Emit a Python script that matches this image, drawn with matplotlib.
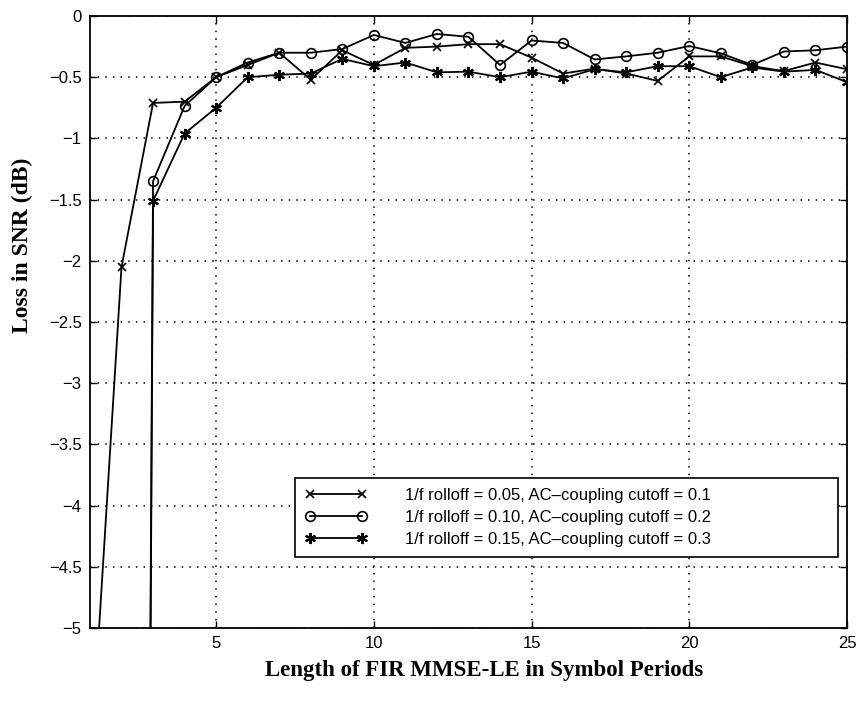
import numpy as np
import matplotlib
matplotlib.use("Agg")
import matplotlib.pyplot as plt

# filter length in symbol periods
taps = np.arange(1, 26)

# loss in SNR (dB) for each coupling setting
loss_a = [-6.2, -2.05, -0.71, -0.70, -0.50, -0.40, -0.30, -0.52, -0.28, -0.40,
          -0.26, -0.25, -0.23, -0.23, -0.34, -0.47, -0.43, -0.47, -0.53, -0.33,
          -0.33, -0.41, -0.45, -0.38, -0.435]
loss_b = [-60.0, -45.0, -1.35, -0.735, -0.50, -0.38, -0.30, -0.30, -0.27, -0.155,
          -0.22, -0.147, -0.17, -0.40, -0.20, -0.22, -0.355, -0.33, -0.30, -0.245,
          -0.305, -0.40, -0.29, -0.28, -0.25]
loss_c = [-62.0, -47.0, -1.51, -0.96, -0.75, -0.50, -0.48, -0.47, -0.35, -0.41,
          -0.38, -0.46, -0.455, -0.50, -0.455, -0.51, -0.435, -0.46, -0.41, -0.41,
          -0.50, -0.42, -0.455, -0.44, -0.54]

labels = ["1/f rolloff = 0.05, AC\u2013coupling cutoff = 0.1",
          "1/f rolloff = 0.10, AC\u2013coupling cutoff = 0.2",
          "1/f rolloff = 0.15, AC\u2013coupling cutoff = 0.3"]

xticks = [5, 10, 15, 20, 25]
yticks = np.arange(-5, 0.01, 0.5)

plt.rcParams['font.family'] = ['Liberation Sans', 'DejaVu Sans']

fig = plt.figure(figsize=(8.61, 7.02), dpi=100)
ax = fig.add_axes([0.1045, 0.1054, 0.8792, 0.8718])

ax.plot(taps, loss_a, 'k-', marker='x', ms=6, mew=1.2, lw=1.3, label=labels[0])
ax.plot(taps, loss_b, 'k-', marker='o', ms=7, mfc='none', mew=1.2, lw=1.3, label=labels[1])
ax.plot(taps, loss_c, 'k-', marker=(6, 2, 0), ms=8, mew=1.5, lw=1.3, label=labels[2])

ax.set_xlim(1, 25)
ax.set_ylim(-5, 0)
ax.set_xticks(xticks)
ax.set_yticks(yticks)
ax.set_yticklabels([('%g' % v).replace('-', '\u2212') if v != 0 else '0' for v in yticks])
ax.tick_params(axis='both', direction='in', top=True, right=True, labelsize=12,
               length=5, width=1, pad=6)
ax.grid(True, color='black', linestyle=(0, (1, 4)), linewidth=1.1)
for s in ax.spines.values():
    s.set_linewidth(1.3)

ax.set_xlabel('Length of FIR MMSE-LE in Symbol Periods', fontsize=16.5,
              fontweight='bold', family='Liberation Serif')
ax.set_ylabel('Loss in SNR (dB)', fontsize=17, fontweight='bold',
              family='Liberation Serif')
ax.xaxis.set_label_coords(0.52, -0.053)
ax.yaxis.set_label_coords(-0.075, 0.625)

leg = ax.legend(loc='lower left', bbox_to_anchor=(0.271, 0.116, 0.717, 0.137),
                mode='expand', fontsize=12, frameon=True, fancybox=False,
                edgecolor='black', framealpha=1, numpoints=2, handlelength=3.7,
                handletextpad=2.3, labelspacing=0.42, borderpad=0.6,
                borderaxespad=0)
leg.get_frame().set_linewidth(1.2)

fig.savefig('out.png', dpi=100)
